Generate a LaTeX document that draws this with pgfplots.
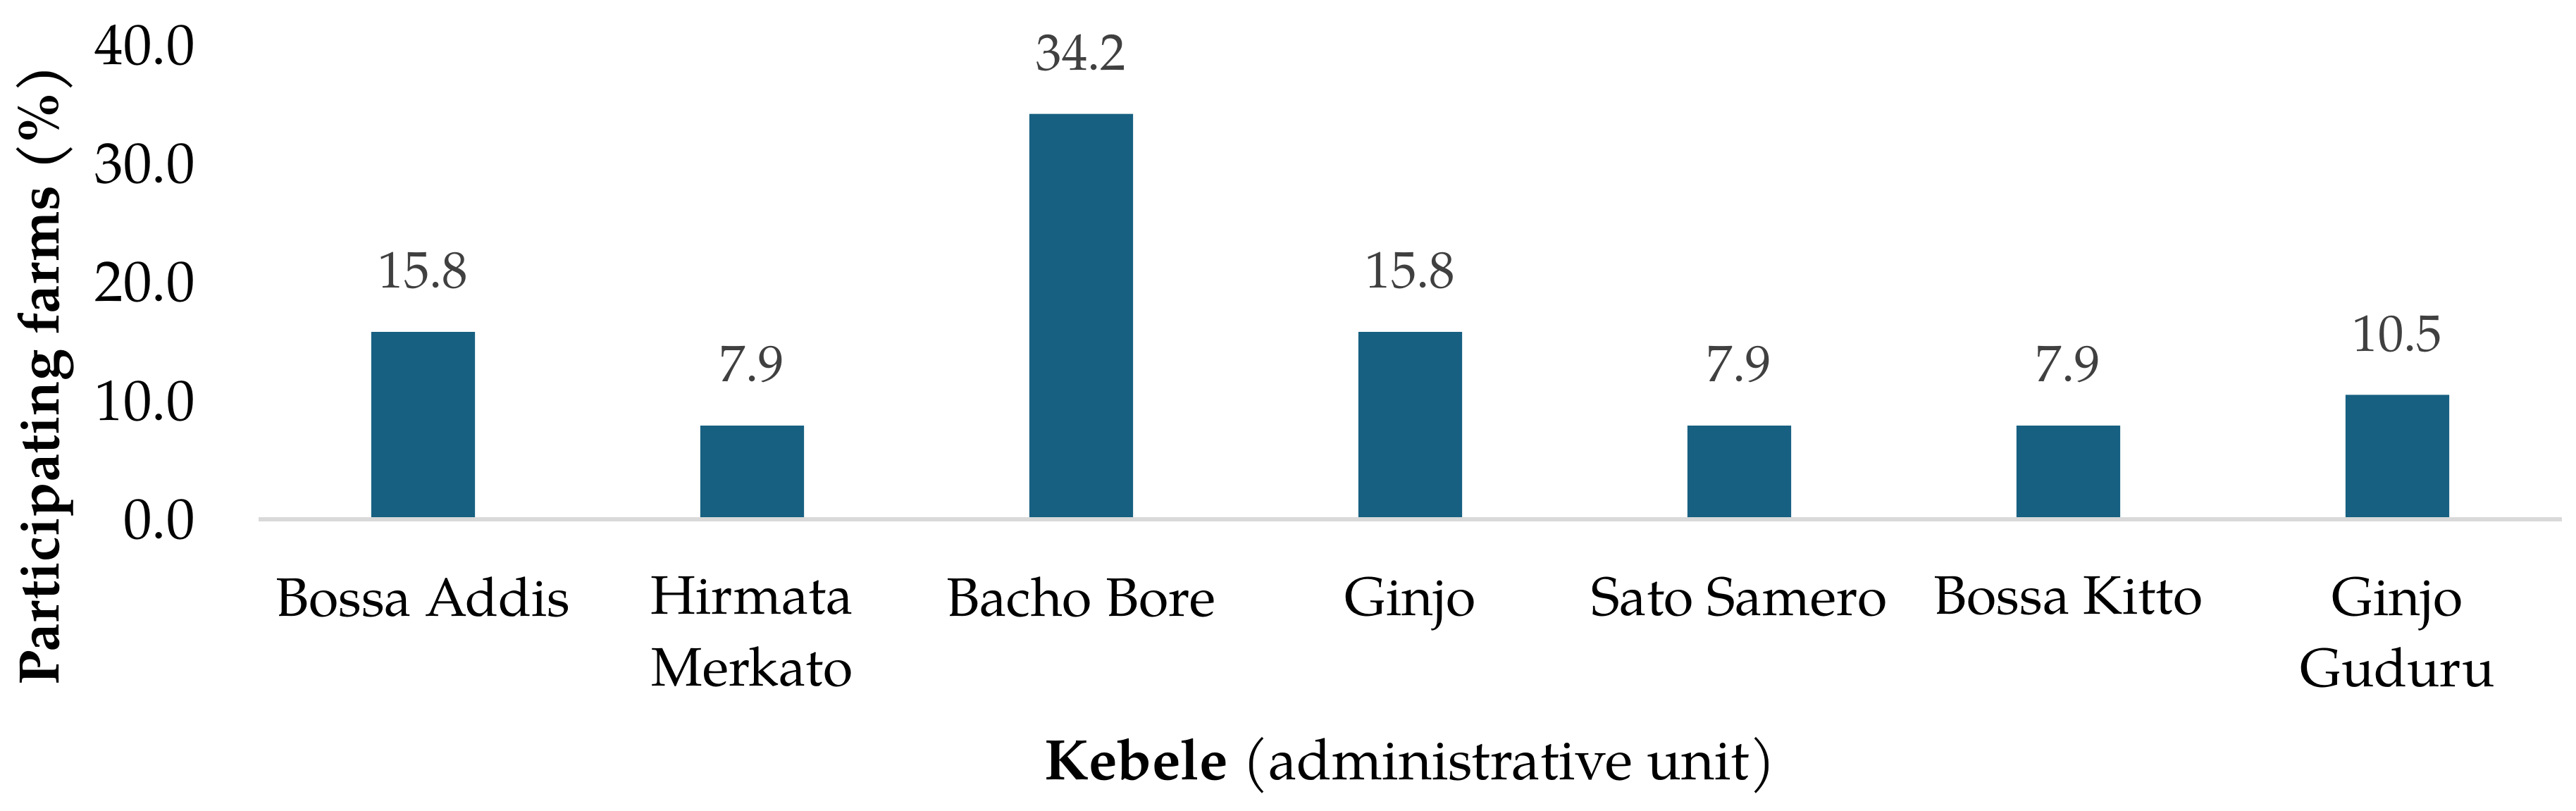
\documentclass[border=0pt]{standalone}
\usepackage{fontspec}
\setmainfont{TeX Gyre Pagella}
\usepackage{pgfplots}
\pgfplotsset{compat=1.18}
\definecolor{barblue}{RGB}{23,96,130}
\definecolor{axgray}{RGB}{217,217,217}
\definecolor{lblgray}{RGB}{64,64,64}
\begin{document}
\begin{tikzpicture}
\path[use as bounding box] (-54.37pt,-61.19pt) rectangle (487.26pt,109.19pt);
\begin{axis}[
  at={(0pt,0pt)}, anchor=south west,
  scale only axis,
  width=484.3pt, height=99.7pt,
  xmin=-0.5, xmax=6.5,
  ymin=0, ymax=40,
  ytick={0,10,20,30,40},
  xtick=data,
  xticklabels={Bossa Addis,Hirmata\\Merkato,Bacho Bore,Ginjo,Sato Samero,Bossa Kitto,Ginjo\\Guduru},
  axis line style={draw=none},
  major tick length=0pt,
  tick style={draw=none},
  /pgf/number format/assume math mode=true,
  yticklabel={\pgfmathprintnumber[fixed,precision=1,zerofill]{\tick}},
  yticklabel style={font=\fontsize{12}{14}\selectfont, anchor=east, inner sep=0pt, xshift=-13.2pt},
  xticklabel style={font=\fontsize{11.4}{15}\selectfont, align=center, anchor=north, inner sep=0pt, yshift=-11.9pt},
  ylabel={\textbf{Participating farms} \textbf{(\%)}},
  ylabel style={font=\fontsize{12}{14}\selectfont, at={(axis description cs:-0.0927,0.305)}, anchor=center},
  xlabel={\textbf{Kebele} (administrative unit)},
  xlabel style={font=\fontsize{12}{14}\selectfont, at={(axis description cs:0.5,0)}, anchor=base, yshift=-54.8pt},
  nodes near coords={\pgfmathprintnumber[fixed,precision=1,zerofill]{\pgfplotspointmeta}},
  every node near coord/.append style={font=\fontsize{10.8}{13}\selectfont, text=lblgray, anchor=south, inner sep=0pt, yshift=8.8pt},
  clip=false,
]
\addplot[ybar, bar width=21.8pt, fill=barblue, draw=none] coordinates {
  (0,15.8) (1,7.9) (2,34.2) (3,15.8) (4,7.9) (5,7.9) (6,10.5)
};
\draw[axgray, line width=0.8pt] (axis cs:-0.5,0) -- (axis cs:6.5,0);
\end{axis}
\end{tikzpicture}
\end{document}
